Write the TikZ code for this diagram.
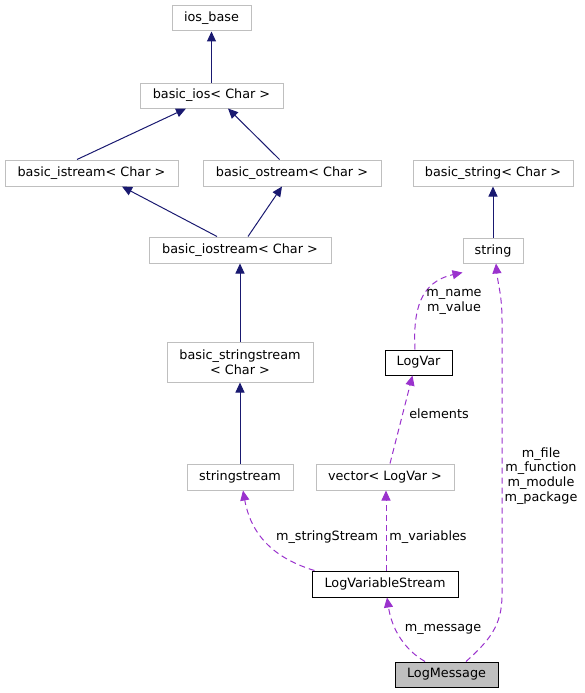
\documentclass[tikz,border=0pt]{standalone}
\usepackage{fontspec}
\setmainfont{DejaVu Sans}
\usetikzlibrary{arrows.meta}
\definecolor{navy}{HTML}{191970}
\definecolor{orchid}{HTML}{9A32CD}
\definecolor{boxgray}{HTML}{BFBFBF}
\tikzset{
  ext/.style={draw=boxgray, line width=1pt, fill=white, inner sep=0pt, align=center,
    font=\fontsize{12.8}{14.5}\selectfont},
  own/.style={ext, draw=black},
  cur/.style={own, fill=boxgray},
  inh/.style={draw=navy, line width=1pt, -{Triangle[length=10pt,width=9pt]}},
  use/.style={draw=orchid, line width=1pt, dash pattern=on 6pt off 4pt, -{Triangle[length=10pt,width=9pt]}},
  lbl/.style={font=\fontsize{12.8}{14.8}\selectfont, align=center, inner sep=0pt, text=black}
}
\begin{document}
\begin{tikzpicture}[x=1pt,y=-1pt]
\useasboundingbox (0,0) rectangle (584,693);
% nodes
\node[ext, minimum width=79pt, minimum height=25pt] (iosbase) at (211.5,18.5) {ios\_base};
\node[ext, minimum width=143pt, minimum height=25pt] (bios) at (211.5,95.5) {basic\_ios< Char >};
\node[ext, minimum width=173pt, minimum height=26pt] (bistream) at (91.5,173) {basic\_istream< Char >};
\node[ext, minimum width=178pt, minimum height=26pt] (bostream) at (292,173) {basic\_ostream< Char >};
\node[ext, minimum width=182pt, minimum height=26pt] (biostream) at (240,250) {basic\_iostream< Char >};
\node[ext, minimum width=146pt, minimum height=40pt] (bsstream) at (240,362) {basic\_stringstream\\< Char >};
\node[ext, minimum width=106pt, minimum height=26pt] (sstream) at (240,477) {stringstream};
\node[ext, minimum width=160pt, minimum height=26pt] (bstring) at (493,173) {basic\_string< Char >};
\node[ext, minimum width=60pt, minimum height=25pt] (string) at (493,250.5) {string};
\node[own, minimum width=67pt, minimum height=25pt] (logvar) at (418.5,362.5) {LogVar};
\node[ext, minimum width=138pt, minimum height=26pt] (vector) at (385,477) {vector< LogVar >};
\node[own, minimum width=146pt, minimum height=26pt] (lvs) at (385,584) {LogVariableStream};
\node[cur, minimum width=103pt, minimum height=25pt] (logmsg) at (446.5,674.5) {LogMessage};
% inheritance
\draw[inh] (bios) -- (iosbase);
\draw[inh] ([xshift=-101.5pt]bistream.north east) -- ([xshift=-25.5pt]bios.south);
\draw[inh] ([xshift=77pt]bostream.north west) -- ([xshift=16.5pt]bios.south);
\draw[inh] ([xshift=-23pt]biostream.north) -- ([xshift=30.5pt]bistream.south);
\draw[inh] ([xshift=8pt]biostream.north) -- ([xshift=-10pt]bostream.south);
\draw[inh] (bsstream) -- (biostream);
\draw[inh] (sstream) -- (bsstream);
\draw[inh] (string) -- (bstring);
% usage
\coordinate (lvtop) at ([xshift=-3.5pt]logvar.north);
\coordinate (strtip) at ([yshift=-9pt]string.south west);
\draw[use] (lvtop) .. controls (413,310) and (420,282) .. (strtip);
\node[lbl] (lnamevalue) at (454,302) {m\_name\\m\_value};
\coordinate (vectop) at ([xshift=5pt]vector.north);
\coordinate (lvbot) at ([xshift=-6pt]logvar.south);
\draw[use] (vectop) -- (lvbot);
\node[lbl] (lelements) at (439,414) {elements};
\coordinate (lvsa) at ([xshift=3pt]lvs.north west);
\coordinate (sstip) at ([xshift=3pt]sstream.south);
\draw[use] (lvsa) .. controls (280,560) and (252,540) .. (sstip);
\node[lbl] (lsstream) at (327,537) {m\_stringStream};
\coordinate (lvsb) at ([xshift=1pt]lvs.north);
\coordinate (vecbot) at ([xshift=1pt]vector.south);
\draw[use] (lvsb) -- (vecbot);
\node[lbl] (lvars) at (428,537) {m\_variables};
\coordinate (lma) at ([xshift=-21.5pt]logmsg.north);
\coordinate (lvstip) at ([xshift=2pt]lvs.south);
\draw[use] (lma) .. controls (405,650) and (392,630) .. (lvstip);
\node[lbl] (lmessage) at (443,629) {m\_message};
\coordinate (lmb) at ([xshift=19.5pt]logmsg.north);
\coordinate (strtip2) at ([xshift=3pt]string.south);
\draw[use] (lmb) .. controls (490,640) and (502,625) .. (502,595) -- (502,320) .. controls (502,295) and (498,285) .. (strtip2);
\node[lbl] (lfile) at (541,476) {m\_file\\m\_function\\m\_module\\m\_package};
\end{tikzpicture}
\end{document}
